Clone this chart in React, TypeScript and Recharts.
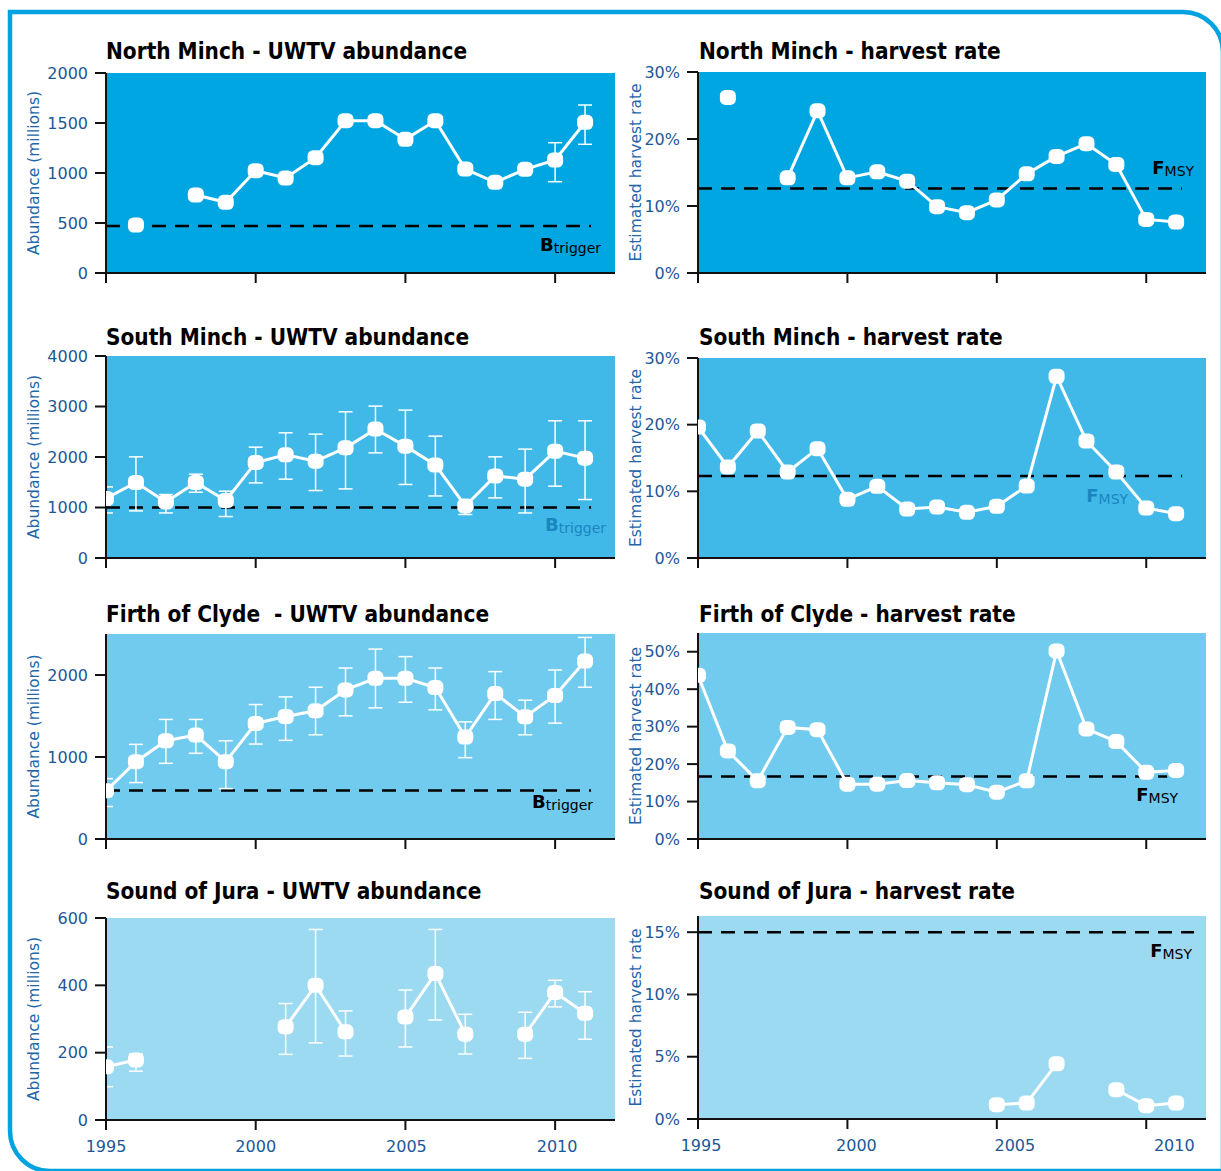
import React from 'react';
import { LineChart, Line, XAxis, YAxis, ErrorBar, ReferenceArea, ReferenceLine } from 'recharts';

const YEARS = [1995, 1996, 1997, 1998, 1999, 2000, 2001, 2002, 2003, 2004, 2005, 2006, 2007, 2008, 2009, 2010, 2011];
const YEAR_TICKS = [1995, 2000, 2005, 2010];

// North Minch
const NM_ABUND = [null, 480, null, 780, 707, 1023, 950, 1153, 1523, 1523, 1337, 1523, 1040, 907, 1037, 1130, 1507];
const NM_ABUND_LO = [null, null, null, null, null, null, null, null, null, null, null, null, null, null, null, 913, 1287];
const NM_ABUND_HI = [null, null, null, null, null, null, null, null, null, null, null, null, null, null, null, 1303, 1680];
const NM_HR = [null, 26.2, null, 14.2, 24.2, 14.2, 15.1, 13.7, 9.9, 9.0, 10.9, 14.8, 17.4, 19.3, 16.2, 8.0, 7.6];

// South Minch
const SM_ABUND = [1178, 1495, 1111, 1495, 1138, 1892, 2043, 1918, 2181, 2552, 2215, 1844, 1031, 1626, 1561, 2116, 1977];
const SM_ABUND_LO = [892, 932, 892, 1303, 821, 1487, 1561, 1336, 1368, 2082, 1456, 1229, 861, 1190, 892, 1422, 1158];
const SM_ABUND_HI = [1408, 2003, 1257, 1660, 1323, 2195, 2479, 2453, 2895, 3008, 2929, 2413, 1080, 2003, 2156, 2717, 2717];
const SM_HR = [19.65, 13.65, 19.05, 12.9, 16.4, 8.8, 10.75, 7.35, 7.65, 6.85, 7.75, 10.8, 27.25, 17.55, 12.9, 7.5, 6.65];

// Firth of Clyde
const FC_ABUND = [587, 943, 1198, 1267, 943, 1409, 1494, 1563, 1818, 1960, 1960, 1847, 1243, 1774, 1490, 1750, 2170];
const FC_ABUND_LO = [396, 688, 923, 1045, 615, 1158, 1203, 1271, 1502, 1599, 1668, 1575, 992, 1458, 1271, 1413, 1851];
const FC_ABUND_HI = [736, 1154, 1458, 1458, 1198, 1640, 1733, 1851, 2085, 2316, 2224, 2085, 1429, 2041, 1693, 2061, 2458];
const FC_HR = [43.7, 23.5, 15.55, 29.8, 29.2, 14.65, 14.65, 15.6, 15.0, 14.5, 12.5, 15.55, 50.2, 29.4, 26.0, 17.8, 18.3];

// Sound of Jura
const SJ_ABUND = [158, 178, null, null, null, null, 277, 400, 262, null, 306, 435, 255, null, 255, 379, 317];
const SJ_ABUND_LO = [99, 145, null, null, null, null, 195, 229, 190, null, 217, 297, 196, null, 183, 336, 240];
const SJ_ABUND_HI = [217, 196, null, null, null, null, 346, 566, 324, null, 386, 566, 314, null, 320, 415, 381];
const SJ_HR = [null, null, null, null, null, null, null, null, null, null, 1.15, 1.28, 4.44, null, 2.35, 1.07, 1.28];

// reference points
const B_TRIGGER = { nm: 470, sm: 1000, fc: 590 };
const F_MSY = { nm: 12.6, sm: 12.3, fc: 16.7, sj: 15.0 };

const TICK_BLUE = '#1d5896';
const LABEL_BLUE = '#2266aa';
const BG = ['#00a6e2', '#41b9e8', '#71cbee', '#9cdaf2'];

type Num = number | null;

const buildRows = (vals: Num[], lo?: Num[], hi?: Num[]) =>
  YEARS.map((year, i) => {
    const v = vals[i];
    const row: any = { year, value: v };
    if (v != null && lo && hi && lo[i] != null && hi[i] != null) {
      row.err = [v - (lo[i] as number), (hi[i] as number) - v];
    }
    return row;
  });

interface PanelCfg {
  title: string;
  side: 'L' | 'R';
  plotTop: number;
  plotBottom: number;
  yMax: number;
  yTicks: number[];
  percent: boolean;
  bg: string;
  rows: any[];
  ref?: number;
  refEnd?: number;
  refMain?: string;
  refSub?: string;
  refColor?: string;
  refDx?: number;
  refDy?: number;
  showYears: boolean;
}

const panels: PanelCfg[] = [
  {
    title: 'North Minch - UWTV abundance', side: 'L', plotTop: 73, plotBottom: 273, yMax: 2000,
    yTicks: [0, 500, 1000, 1500, 2000], percent: false, bg: BG[0],
    rows: buildRows(NM_ABUND, NM_ABUND_LO, NM_ABUND_HI),
    ref: B_TRIGGER.nm, refEnd: 2011.2, refMain: 'B', refSub: 'trigger', refColor: '#000', refDx: 10, refDy: 25,
    showYears: false,
  },
  {
    title: 'North Minch - harvest rate', side: 'R', plotTop: 72, plotBottom: 273, yMax: 30,
    yTicks: [0, 10, 20, 30], percent: true, bg: BG[0],
    rows: buildRows(NM_HR),
    ref: F_MSY.nm, refEnd: 2011.2, refMain: 'F', refSub: 'MSY', refColor: '#000', refDx: 12, refDy: -15,
    showYears: false,
  },
  {
    title: 'South Minch - UWTV abundance', side: 'L', plotTop: 356, plotBottom: 558, yMax: 4000,
    yTicks: [0, 1000, 2000, 3000, 4000], percent: false, bg: BG[1],
    rows: buildRows(SM_ABUND, SM_ABUND_LO, SM_ABUND_HI),
    ref: B_TRIGGER.sm, refEnd: 2011.2, refMain: 'B', refSub: 'trigger', refColor: '#1a86c0', refDx: 15, refDy: 23,
    showYears: false,
  },
  {
    title: 'South Minch - harvest rate', side: 'R', plotTop: 358, plotBottom: 558, yMax: 30,
    yTicks: [0, 10, 20, 30], percent: true, bg: BG[1],
    rows: buildRows(SM_HR),
    ref: F_MSY.sm, refEnd: 2011.2, refMain: 'F', refSub: 'MSY', refColor: '#1a86c0', refDx: -54, refDy: 26,
    showYears: false,
  },
  {
    title: 'Firth of Clyde  - UWTV abundance', side: 'L', plotTop: 634, plotBottom: 839, yMax: 2500,
    yTicks: [0, 1000, 2000], percent: false, bg: BG[2],
    rows: buildRows(FC_ABUND, FC_ABUND_LO, FC_ABUND_HI),
    ref: B_TRIGGER.fc, refEnd: 2011.2, refMain: 'B', refSub: 'trigger', refColor: '#000', refDx: 2, refDy: 17,
    showYears: false,
  },
  {
    title: 'Firth of Clyde - harvest rate', side: 'R', plotTop: 633, plotBottom: 839, yMax: 55,
    yTicks: [0, 10, 20, 30, 40, 50], percent: true, bg: BG[2],
    rows: buildRows(FC_HR),
    ref: F_MSY.fc, refEnd: 2010.7, refMain: 'F', refSub: 'MSY', refColor: '#000', refDx: 11, refDy: 25,
    showYears: false,
  },
  {
    title: 'Sound of Jura - UWTV abundance', side: 'L', plotTop: 918, plotBottom: 1120, yMax: 600,
    yTicks: [0, 200, 400, 600], percent: false, bg: BG[3],
    rows: buildRows(SJ_ABUND, SJ_ABUND_LO, SJ_ABUND_HI),
    showYears: true,
  },
  {
    title: 'Sound of Jura - harvest rate', side: 'R', plotTop: 916, plotBottom: 1119, yMax: 16.3,
    yTicks: [0, 5, 10, 15], percent: true, bg: BG[3],
    rows: buildRows(SJ_HR),
    ref: F_MSY.sj, refEnd: 2011.6, refMain: 'F', refSub: 'MSY', refColor: '#000', refDx: -2, refDy: 25,
    showYears: true,
  },
];

const renderDot = (props: any) => {
  const { cx, cy, index, value } = props;
  if (cx == null || cy == null || value == null) return <g key={`d-${index}`} />;
  return <rect key={`d-${index}`} x={cx - 8} y={cy - 7.5} width={16} height={15} rx={5.5} fill="#fff" />;
};

const yearTick = (show: boolean, shifts: number[]) => (props: any) => {
  const { x, y, payload, index } = props;
  if (!show) return <g />;
  return (
    <text x={x + (shifts[index] || 0)} y={y} dy="0.71em" textAnchor="middle" fill={TICK_BLUE} fontSize={16}>
      {payload.value}
    </text>
  );
};

const Panel = ({ p }: { p: PanelCfg }) => {
  const left = p.side === 'L';
  const mt = 10;
  const axisW = left ? 106 : 88;
  const width = left ? 620 : 601;
  const height = p.plotBottom - p.plotTop + mt + 40;
  const labelX = left ? 34 : 26;
  const shifts = left ? [0, 0, 1, 2] : [3, 9, 18, 28];

  const axisLabel = (props: any) => {
    const vb = props.viewBox;
    const cy = vb.y + vb.height / 2;
    return (
      <text x={labelX} y={cy} transform={`rotate(-90 ${labelX} ${cy})`} textAnchor="middle"
        dominantBaseline="central" fill={LABEL_BLUE} fontSize={15.5}>
        {left ? 'Abundance (millions)' : 'Estimated harvest rate'}
      </text>
    );
  };

  const refLabel = (props: any) => {
    const vb = props.viewBox || {};
    const xr = vb.x + (vb.width || 0) + (p.refDx || 0);
    const y = vb.y + (p.refDy || 0);
    return (
      <text x={xr} y={y} textAnchor="end" fill={p.refColor}>
        <tspan fontWeight="bold" fontSize={18}>{p.refMain}</tspan>
        <tspan fontSize={14} dy={2}>{p.refSub}</tspan>
      </text>
    );
  };

  return (
    <div style={{ position: 'absolute', left: left ? 0 : 610, top: p.plotTop - mt }}>
      <LineChart width={width} height={height} data={p.rows} margin={{ top: mt, right: 5, bottom: 0, left: 0 }}>
        <ReferenceArea x1={1995} x2={2012} y1={0} y2={p.yMax} fill={p.bg} fillOpacity={1} stroke="none" />
        <XAxis type="number" dataKey="year" domain={[1995, 2012]} ticks={YEAR_TICKS} allowDataOverflow
          height={40} tickSize={10} tickMargin={11} interval={0}
          axisLine={{ stroke: '#111', strokeWidth: 2 }} tickLine={{ stroke: '#111', strokeWidth: 2 }}
          tick={yearTick(p.showYears, shifts)} />
        <YAxis type="number" domain={[0, p.yMax]} ticks={p.yTicks} allowDataOverflow width={axisW}
          tickSize={11} tickMargin={7} interval={0}
          axisLine={{ stroke: '#111', strokeWidth: 2 }} tickLine={{ stroke: '#111', strokeWidth: 2 }}
          tick={{ fill: TICK_BLUE, fontSize: 16 }}
          tickFormatter={(v: number) => (p.percent ? `${v}%` : `${v}`)}
          label={axisLabel} />
        {p.ref != null && (
          <ReferenceLine segment={[{ x: 1995, y: p.ref }, { x: p.refEnd, y: p.ref }]}
            stroke="#000" strokeWidth={2.5} strokeDasharray="14 9" label={refLabel} />
        )}
        <Line dataKey="value" stroke="#fff" strokeWidth={3} dot={renderDot} activeDot={false}
          connectNulls={false} isAnimationActive={false}>
          {p.rows.some((r) => r.err) && (
            <ErrorBar dataKey="err" direction="y" width={7} stroke="#fff" strokeWidth={1.5} />
          )}
        </Line>
      </LineChart>
    </div>
  );
};

const TITLE_Y = [59, 345, 622, 899];

export default function App() {
  return (
    <div style={{ position: 'absolute', left: 0, top: 0, width: 1221, height: 1171, background: '#fff',
      overflow: 'hidden', fontFamily: "'DejaVu Sans', sans-serif" }}>
      {panels.map((p, i) => <Panel key={i} p={p} />)}
      <svg width={1221} height={1171} style={{ position: 'absolute', left: 0, top: 0, pointerEvents: 'none' }}>
        <path d="M 10 1131 L 10 12 L 1183 12 A 40 40 0 0 1 1223 52 L 1223 1200" fill="none" stroke="#00a3e0" strokeWidth={4.5} />
        <path d="M 10 1131 A 40 40 0 0 0 50 1171 L 1240 1171" fill="none" stroke="#00a3e0" strokeWidth={4.5} />
        {panels.map((p, i) => (
          <text key={i} x={p.side === 'L' ? 106 : 699} y={TITLE_Y[Math.floor(i / 2)]}
            fontFamily="'DejaVu Sans Condensed', 'DejaVu Sans', sans-serif" fontWeight="bold"
            fontSize={22.4} fill="#000" style={{ whiteSpace: 'pre', fontStretch: 'condensed' }}>
            {p.title}
          </text>
        ))}
      </svg>
    </div>
  );
}
